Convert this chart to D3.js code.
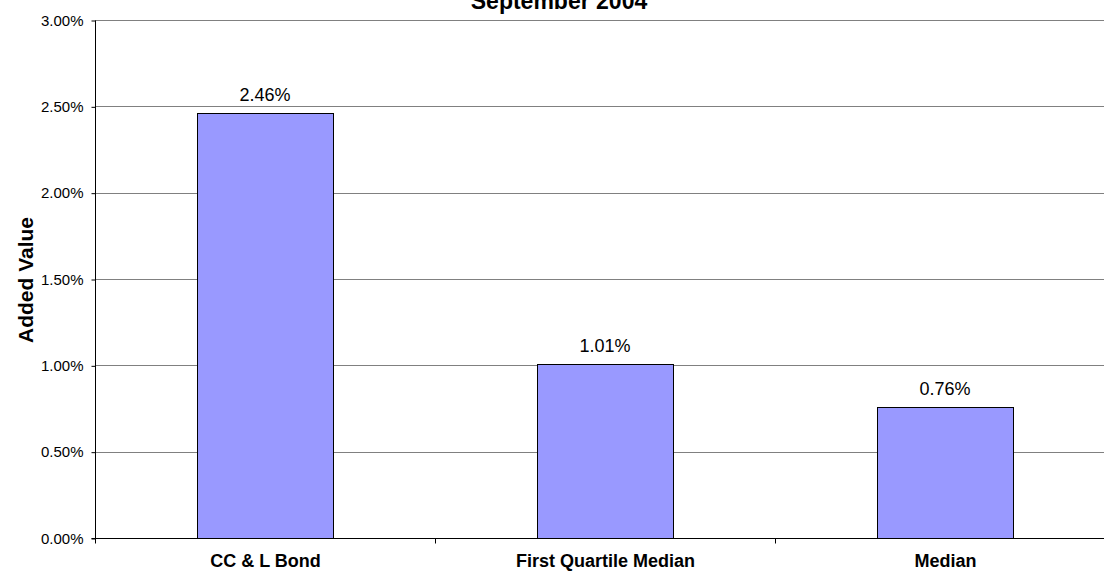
<!DOCTYPE html>
<html><head><meta charset="utf-8">
<script src="https://cdn.jsdelivr.net/npm/d3@7"></script>
<style>body{margin:0;background:#fff;}svg{display:block;font-family:Arial,"Liberation Sans",sans-serif;}</style>
</head><body>
<svg id="c" width="1104" height="572"></svg>
<script>
const categories = ["CC & L Bond", "First Quartile Median", "Median"];
const values = [2.46, 1.01, 0.76];
const valueLabels = ["2.46%", "1.01%", "0.76%"];
const yTicks = [0, 0.5, 1.0, 1.5, 2.0, 2.5, 3.0];
const title = "September 2004";
const yTitle = "Added Value";

(function () {
const svg = d3.select("#c");
const pL = 95, pR = 1115, pT = 20, pB = 538;
const x = d3.scaleBand().domain(categories).range([pL, pR]).paddingInner(0).paddingOuter(0);
const y = d3.scaleLinear().domain([0, 3]).range([pB, pT]);

// gridlines
svg.append("g").selectAll("line").data(yTicks.filter(d => d > 0)).join("line")
  .attr("x1", pL).attr("x2", pR)
  .attr("y1", d => Math.round(y(d)) + 0.5).attr("y2", d => Math.round(y(d)) + 0.5)
  .attr("stroke", "#808080").attr("stroke-width", 1);

// bars
const bw = x.bandwidth() * 0.4;
svg.append("g").selectAll("rect").data(values).join("rect")
  .attr("x", (d, i) => Math.round(x(categories[i]) + x.bandwidth() / 2 - bw / 2) + 0.5)
  .attr("y", d => Math.round(y(d)) + 0.5)
  .attr("width", Math.round(bw))
  .attr("height", d => Math.round(y(0)) - Math.round(y(d)))
  .attr("fill", "#9999ff").attr("stroke", "#000").attr("stroke-width", 1);

// value labels
svg.append("g").selectAll("text").data(values).join("text")
  .attr("x", (d, i) => x(categories[i]) + x.bandwidth() / 2)
  .attr("y", d => y(d) - 12)
  .attr("text-anchor", "middle").attr("font-size", 18).attr("fill", "#000")
  .text((d, i) => valueLabels[i]);

// y axis
const yAxis = d3.axisLeft(y).tickValues(yTicks).tickSize(4).tickFormat(d => d.toFixed(2) + "%");
const ya = svg.append("g").attr("transform", `translate(${pL + 0.5},0.5)`).call(yAxis);
ya.select(".domain").attr("stroke", "#000").attr("d", `M0,${pT}V${pB}`);
ya.selectAll(".tick line").attr("stroke", "#000");
ya.selectAll(".tick text").attr("font-size", 15).attr("fill", "#000").attr("font-family", "Arial, 'Liberation Sans', sans-serif").attr("x", -12);

// x axis
const xa = svg.append("g").attr("transform", `translate(0.5,${pB + 0.5})`);
xa.append("line").attr("x1", pL - 4).attr("x2", pR).attr("stroke", "#000");
const xTickPos = [pL, pL + x.bandwidth(), pL + 2 * x.bandwidth()];
xa.selectAll(".xt").data(xTickPos).join("line").attr("class", "xt")
  .attr("x1", d => Math.round(d)).attr("x2", d => Math.round(d)).attr("y1", 0).attr("y2", 5).attr("stroke", "#000");
xa.selectAll(".xl").data(categories).join("text").attr("class", "xl")
  .attr("x", d => x(d) + x.bandwidth() / 2).attr("y", 28)
  .attr("text-anchor", "middle").attr("font-size", 18).attr("font-weight", "bold").attr("fill", "#000")
  .text(d => d);

// title
svg.append("text").attr("x", 559).attr("y", 9).attr("text-anchor", "middle")
  .attr("font-size", 23).attr("font-weight", "bold").text(title);

// y title
svg.append("text").attr("transform", `translate(33,280) rotate(-90)`).attr("text-anchor", "middle")
  .attr("font-size", 21).attr("font-weight", "bold").text(yTitle);
})();
</script>
</body></html>
